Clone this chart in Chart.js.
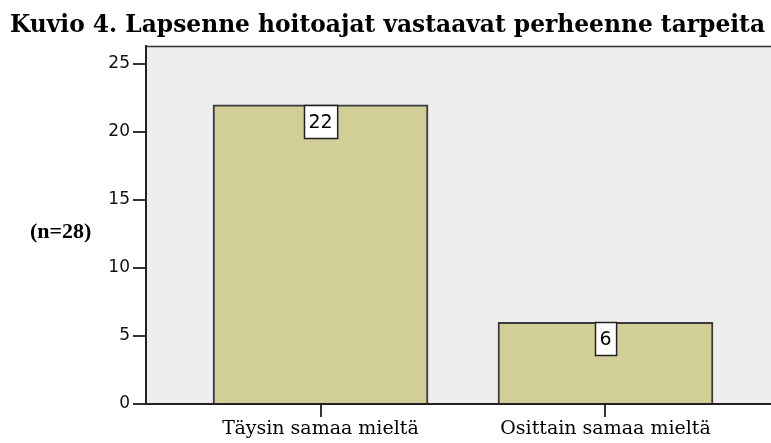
<!DOCTYPE html>
<html lang="en">
<head>
    <meta charset="UTF-8">
    <title>Kuvio 4</title>
    <style>
        html, body { margin: 0; padding: 0; background: #fff; overflow: hidden; }
        #wrap { width: 790px; height: 443px; }
    </style>
</head>
<body>
<div id="wrap">
    <canvas id="kuvio"></canvas>
</div>

<script src="https://cdn.jsdelivr.net/npm/chart.js@4.4.1/dist/chart.umd.min.js"></script>
<script>
const categories = ["Täysin samaa mieltä", "Osittain samaa mieltä"];
const values = [22, 6];
const yTicks = [0, 5, 10, 15, 20, 25];
const titleText = "Kuvio 4. Lapsenne hoitoajat vastaavat perheenne tarpeita";
const nText = "(n=28)";

// background of the plot + frame top line
const plotBg = {
    id: "plotBg",
    beforeDraw(chart) {
        const { ctx, chartArea: a } = chart;
        ctx.save();
        ctx.fillStyle = "#eeeeee";
        ctx.fillRect(a.left, a.top, a.right - a.left, a.bottom - a.top);
        ctx.strokeStyle = "#333";
        ctx.lineWidth = 1.5;
        ctx.beginPath();
        ctx.moveTo(a.left, a.top + 0.5);
        ctx.lineTo(a.right, a.top + 0.5);
        ctx.stroke();
        ctx.restore();
    }
};

// title and (n=28), drawn by hand so the plot area stays put
const texts = {
    id: "texts",
    afterDraw(chart) {
        const ctx = chart.ctx;
        ctx.save();
        ctx.fillStyle = "#000";
        ctx.font = "bold 25px 'DejaVu Serif', serif";
        ctx.textBaseline = "alphabetic";
        const w = ctx.measureText(titleText).width;
        const target = 755;
        ctx.translate(10, 32);
        ctx.scale(target / w, 1);
        ctx.fillText(titleText, 0, 0);
        ctx.restore();

        ctx.save();
        ctx.fillStyle = "#000";
        ctx.font = "bold 22px 'Liberation Serif', serif";
        ctx.textBaseline = "alphabetic";
        ctx.fillText(nText, 30, 238);
        ctx.restore();
    }
};

// value boxes hanging from the top of each bar
const valueBoxes = {
    id: "valueBoxes",
    afterDatasetsDraw(chart) {
        const ctx = chart.ctx;
        const meta = chart.getDatasetMeta(0);
        ctx.save();
        ctx.font = "19px 'DejaVu Sans', sans-serif";
        ctx.textAlign = "center";
        ctx.textBaseline = "middle";
        meta.data.forEach((bar, i) => {
            const label = String(values[i]);
            const bw = ctx.measureText(label).width + 9;
            const bh = 33;
            const x = Math.round(bar.x - bw / 2) + 0.5;
            const y = Math.round(bar.y) + 0.5;
            ctx.fillStyle = "#fff";
            ctx.fillRect(x, y, bw, bh);
            ctx.strokeStyle = "#222";
            ctx.lineWidth = 1.5;
            ctx.strokeRect(x, y, bw, bh);
            ctx.fillStyle = "#000";
            ctx.fillText(label, bar.x, y + bh / 2 + 1);
        });
        ctx.restore();
    }
};

new Chart("kuvio", {
    type: "bar",
    data: {
        datasets: [{
            data: values.map((v, i) => ({ x: i + 1, y: v })),
            backgroundColor: "#d2ce98",
            borderColor: "#3a3a3a",
            borderWidth: 2,
            borderSkipped: "bottom",
            barThickness: 215
        }]
    },
    options: {
        responsive: true,
        maintainAspectRatio: false,
        animation: false,
        layout: { padding: { top: 46, right: 10, left: 0, bottom: 0 } },
        plugins: {
            legend: { display: false },
            tooltip: { enabled: false },
            title: { display: false }
        },
        scales: {
            x: {
                type: "linear",
                offset: false,
                min: 0.3877,
                max: 2.6123,
                afterBuildTicks: s => { s.ticks = categories.map((c, i) => ({ value: i + 1 })); },
                afterFit: s => { s.height = 39; },
                grid: {
                    offset: false,
                    drawOnChartArea: false,
                    drawTicks: true,
                    tickLength: 13,
                    color: "#333",
                    lineWidth: 2
                },
                border: { display: true, color: "#222", width: 2 },
                ticks: {
                    autoSkip: false,
                    maxRotation: 0,
                    padding: 1,
                    color: "#000",
                    font: { family: "'DejaVu Serif', serif", size: 19 },
                    callback: v => categories[v - 1]
                }
            },
            y: {
                min: 0,
                max: 26.32,
                afterBuildTicks: s => { s.ticks = yTicks.map(v => ({ value: v })); },
                afterFit: s => { s.width = 146; },
                grid: {
                    drawOnChartArea: false,
                    drawTicks: true,
                    tickLength: 13,
                    color: "#333",
                    lineWidth: 2
                },
                border: { display: true, color: "#222", width: 2 },
                ticks: {
                    padding: 3,
                    color: "#111",
                    font: { family: "'DejaVu Sans', sans-serif", size: 17 }
                }
            }
        }
    },
    plugins: [plotBg, valueBoxes, texts]
});
</script>
</body>
</html>
